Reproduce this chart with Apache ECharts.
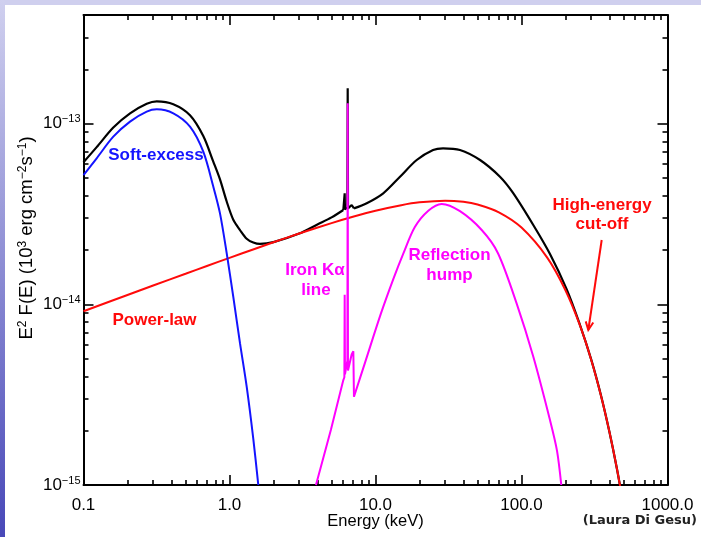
<!DOCTYPE html>
<html><head><meta charset="utf-8">
<script src="https://cdn.jsdelivr.net/npm/echarts@6/dist/echarts.min.js"></script>
<style>
html,body{margin:0;padding:0;background:#fff;}
#topbar{position:absolute;left:0;top:0;width:701px;height:5px;background:#cfcfee;}
#leftbar{position:absolute;left:0;top:0;width:5px;height:537px;background:linear-gradient(#d0d0ef,#4848b8);}
#chart{position:absolute;left:0;top:0;width:701px;height:537px;}
</style></head><body>
<div id="topbar"></div><div id="leftbar"></div><div id="chart"></div>
<script>
// ---- data (E in keV, E^2 F(E) in 10^3 erg cm^-2 s^-1) ----
const softE = [0.1, 0.1231, 0.16, 0.2083, 0.271, 0.3173, 0.4123, 0.5364, 0.6614, 0.7743, 0.8607, 0.9567, 1.0617, 1.18, 1.3114, 1.4555, 1.575];
const softF = [5.2e-14, 6.44e-14, 8.48e-14, 1.028e-13, 1.167e-13, 1.202e-13, 1.143e-13, 9.64e-14, 7.0e-14, 4.49e-14, 3.19e-14, 1.92e-14, 1.10e-14, 6.1e-15, 3.5e-15, 1.8e-15, 1.0e-15];

const plE = [0.1, 0.2, 0.3, 0.5, 0.7, 1, 1.5, 2, 3, 5, 7, 10, 15, 20, 30, 40, 50, 70, 100, 150, 200, 250, 300, 350, 400, 450, 500];
const plF = [9.16e-15, 1.127e-14, 1.271e-14, 1.477e-14, 1.631e-14, 1.81e-14, 2.033e-14, 2.206e-14, 2.466e-14, 2.818e-14, 3.054e-14, 3.30e-14, 3.54e-14, 3.671e-14, 3.75e-14, 3.697e-14, 3.574e-14, 3.232e-14, 2.661e-14, 1.816e-14, 1.198e-14, 7.74e-15, 4.94e-15, 3.13e-15, 1.97e-15, 1.234e-15, 7.7e-16];

const ironE = [3.91, 4.95, 6.02, 6.12, 6.15, 6.18, 6.42, 6.45, 6.48, 6.87, 7.05, 7.12];
const ironF = [1.0e-15, 2.02e-15, 3.81e-15, 3.95e-15, 1.13e-14, 4.1e-15, 4.9e-15, 1.3e-13, 4.3e-15, 5.3e-15, 5.5e-15, 3.08e-15];

const humpE = [7.12, 8.5, 10.9, 13.24, 15.5, 18.6, 23.0, 28.4, 37.9, 53.4, 69.0, 92.7, 120.5, 156.7, 175, 187.3];
const humpF = [3.08e-15, 4.79e-15, 8.91e-15, 1.38e-14, 1.91e-14, 2.68e-14, 3.3e-14, 3.6e-14, 3.28e-14, 2.58e-14, 1.92e-14, 1.01e-14, 5.13e-15, 2.29e-15, 1.55e-15, 1.0e-15];

const totLowE = [0.1, 0.1231, 0.16, 0.2083, 0.271, 0.3173, 0.4123, 0.5364, 0.6614, 0.7743, 0.8607, 0.9567, 1.0617, 1.18, 1.3114, 1.4555, 1.618, 2, 3, 4, 5, 6.02];
const totLowF = [6.12e-14, 7.42e-14, 9.53e-14, 1.142e-13, 1.29e-13, 1.331e-13, 1.283e-13, 1.115e-13, 8.55e-14, 6.17e-14, 4.92e-14, 3.71e-14, 2.94e-14, 2.58e-14, 2.31e-14, 2.2e-14, 2.16e-14, 2.21e-14, 2.466e-14, 2.77e-14, 3.03e-14, 3.33e-14];

const totLineE = [6.02, 6.12, 6.15, 6.18, 6.42, 6.45, 6.48, 6.87, 7.05, 7.12];
const totLineF = [3.33e-14, 3.35e-14, 4.12e-14, 3.36e-14, 3.45e-14, 1.57e-13, 3.40e-14, 3.55e-14, 3.56e-14, 3.40e-14];

const totHighE = [7.12, 8.71, 11.3, 14.72, 19.15, 24.8, 29.0, 37.9, 52.0, 71.2, 87.5, 120.4, 156.7, 204, 250, 300, 350, 400, 450, 500];
const totHighF = [3.40e-14, 3.63e-14, 4.12e-14, 5.09e-14, 6.30e-14, 7.16e-14, 7.31e-14, 7.16e-14, 6.30e-14, 5.09e-14, 4.14e-14, 2.75e-14, 1.90e-14, 1.21e-14, 7.8e-15, 4.96e-15, 3.14e-15, 1.97e-15, 1.234e-15, 7.7e-16];

// ---- ticks ----
const xRange = [0.1, 1000];
const yRange = [1e-15, 4e-13];
const xTickValues = [0.1, 1, 10, 100, 1000];
const xTickLabels = ['0.1', '1.0', '10.0', '100.0', '1000.0'];
const xMinorValues = [0.2,0.3,0.4,0.5,0.6,0.7,0.8,0.9, 2,3,4,5,6,7,8,9, 20,30,40,50,60,70,80,90, 200,300,400,500,600,700,800,900];
const yTickValues = [1e-15, 1e-14, 1e-13];
const yTickLabels = ['\u221215', '\u221214', '\u221213'];
const yMinorValues = [2e-15,3e-15,4e-15,5e-15,6e-15,7e-15,8e-15,9e-15, 2e-14,3e-14,4e-14,5e-14,6e-14,7e-14,8e-14,9e-14, 2e-13,3e-13];

const lg = Math.log10;
const pts = (E, F) => E.map((e, i) => [lg(e), lg(F[i])]);
const FONT = '"Liberation Sans", Arial, Helvetica, sans-serif';

function xFmt(v) {
  const i = xTickValues.findIndex(t => Math.abs(lg(t) - v) < 1e-6);
  return i >= 0 ? xTickLabels[i] : '';
}
function yFmt(v) {
  const i = yTickValues.findIndex(t => Math.abs(lg(t) - v) < 1e-6);
  return i >= 0 ? '{b|10}{s|' + yTickLabels[i] + '}' : '';
}

function makeX(pos, major, main) {
  return {
    type: 'value', position: pos, gridIndex: 0,
    min: lg(xRange[0]), max: lg(xRange[1]),
    splitLine: { show: false },
    axisLine: { show: !!main, onZero: false, lineStyle: { color: '#000', width: 2 } },
    axisTick: { show: true, inside: true, length: major ? 10 : 5,
      lineStyle: { color: '#000', width: 1.6 },
      customValues: (major ? xTickValues : xMinorValues).map(lg) },
    axisLabel: (pos === 'bottom' && major) ? {
      show: true, customValues: xTickValues.map(lg), formatter: xFmt,
      margin: 12, color: '#000', fontSize: 17, fontFamily: FONT
    } : { show: false },
    name: (pos === 'bottom' && major) ? 'Energy (keV)' : '',
    nameLocation: 'middle', nameGap: 28, nameMoveOverlap: false,
    nameTextStyle: { color: '#000', fontSize: 16.5, fontFamily: FONT }
  };
}
function makeY(pos, major, main) {
  const labelled = (pos === 'left' && major);
  return {
    type: 'value', position: pos, gridIndex: 0,
    min: lg(yRange[0]), max: lg(yRange[1]),
    splitLine: { show: false },
    axisLine: { show: !!main, onZero: false, lineStyle: { color: '#000', width: 2 } },
    axisTick: { show: true, inside: true, length: major ? 10 : 5,
      lineStyle: { color: '#000', width: 1.6 },
      customValues: (major ? yTickValues : yMinorValues).map(lg) },
    axisLabel: labelled ? {
      show: true, customValues: yTickValues.map(lg), formatter: yFmt, margin: 3,
      rich: {
        b: { fontSize: 17, fontFamily: FONT, color: '#000', lineHeight: 20 },
        s: { fontSize: 11, fontFamily: FONT, color: '#000', lineHeight: 11, verticalAlign: 'top' }
      }
    } : { show: false },
    name: labelled ? '{n|E}{s|2}{n| F(E) (10}{s|3}{n| erg cm}{s|\u22122}{n|s}{s|\u22121}{n|)}' : '',
    nameLocation: 'middle', nameGap: 46, nameMoveOverlap: false,
    nameTextStyle: {
      padding: [0, 0, 0, 24],
      rich: {
        n: { fontSize: 18.5, fontFamily: FONT, color: '#000', lineHeight: 21 },
        s: { fontSize: 12, fontFamily: FONT, color: '#000', lineHeight: 12, verticalAlign: 'top' }
      }
    }
  };
}

function lineSeries(name, data, color, smooth, width) {
  return {
    name, type: 'line', xAxisIndex: 0, yAxisIndex: 0, data,
    symbol: 'none', showSymbol: false, smooth: smooth ? 0.3 : false,
    lineStyle: { color, width: width || 2 }, itemStyle: { color },
    silent: true, clip: true
  };
}

const BLACK = '#000000', RED = '#ff0a0a', BLUE = '#1414ff', MAG = '#ff00ff';

// arrow geometry for "High-energy cut-off"
const arrowTail = [601.7, 240], arrowTip = [588.3, 330];
function wing(sign) {
  const dx = arrowTail[0] - arrowTip[0], dy = arrowTail[1] - arrowTip[1];
  const L = Math.hypot(dx, dy), bx = dx / L, by = dy / L;
  const a = sign * 25 * Math.PI / 180, c = Math.cos(a), s = Math.sin(a);
  return [arrowTip[0] + 9 * (bx * c - by * s), arrowTip[1] + 9 * (bx * s + by * c)];
}
const BOLD = 'bold 17px ' + FONT;
function label(text, x, y, color) {
  return { type: 'text', x, y, silent: true, z: 100,
    style: { text, fill: color, font: BOLD, textAlign: 'center', textVerticalAlign: 'middle', align: 'center', verticalAlign: 'middle' } };
}

const chart = echarts.init(document.getElementById('chart'), null, { renderer: 'canvas' });
chart.setOption({
  animation: false,
  backgroundColor: 'rgba(0,0,0,0)',
  grid: { left: 83.5, top: 15, width: 584, height: 470, containLabel: false, outerBoundsMode: 'none' },
  xAxis: [makeX('bottom', true, true), makeX('bottom', false, false), makeX('top', true, true), makeX('top', false, false)],
  yAxis: [makeY('left', true, true), makeY('left', false, false), makeY('right', true, true), makeY('right', false, false)],
  series: [
    lineSeries('Total (low)', pts(totLowE, totLowF), BLACK, true, 2.2),
    lineSeries('Total (Fe line)', pts(totLineE, totLineF), BLACK, false, 2.2),
    lineSeries('Total (high)', pts(totHighE, totHighF), BLACK, true, 2.2),
    lineSeries('Power-law', pts(plE, plF), RED, true, 2),
    lineSeries('Soft-excess', pts(softE, softF), BLUE, true, 2),
    lineSeries('Iron K line', pts(ironE, ironF), MAG, false, 2),
    lineSeries('Reflection hump', pts(humpE, humpF), MAG, true, 2)
  ],
  graphic: [
    label('Soft-excess', 156, 155, BLUE),
    label('Power-law', 154.5, 320, RED),
    label('Iron K\u03b1', 315, 270, MAG),
    label('line', 316, 290, MAG),
    label('Reflection', 449.5, 255, MAG),
    label('hump', 449.5, 275, MAG),
    label('High-energy', 602, 205.5, RED),
    label('cut-off', 602, 224.5, RED),
    { type: 'line', silent: true, z: 100, shape: { x1: arrowTail[0], y1: arrowTail[1], x2: arrowTip[0], y2: arrowTip[1] },
      style: { stroke: RED, lineWidth: 2 } },
    { type: 'polyline', silent: true, z: 100, shape: { points: [wing(1), arrowTip, wing(-1)] },
      style: { stroke: RED, lineWidth: 2, fill: null } },
    { type: 'text', x: 697, y: 521, silent: true, z: 100,
      style: { text: '(Laura Di Gesu)', fill: '#222', font: 'bold 13px "DejaVu Sans", Verdana, sans-serif',
        textAlign: 'right', textVerticalAlign: 'middle', align: 'right', verticalAlign: 'middle' } }
  ]
});
</script></body></html>
